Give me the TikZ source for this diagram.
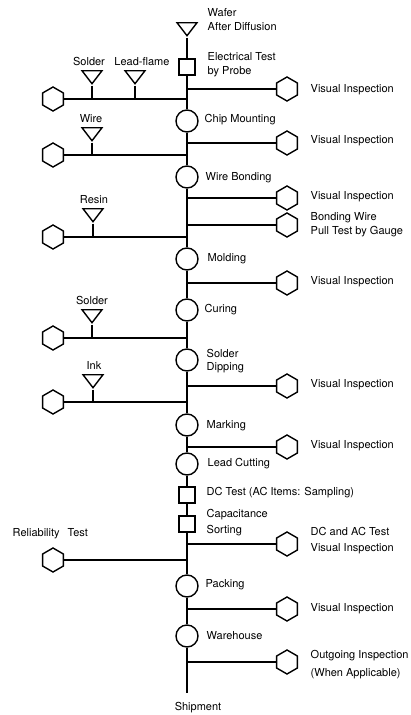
\documentclass[tikz,border=0pt]{standalone}
\usepackage{fontspec}
\setmainfont{TeX Gyre Heros}
\usetikzlibrary{shapes.geometric, positioning}

\begin{document}
\begin{tikzpicture}[x=1pt, y=-1pt, line width=1.4pt,
  every node/.style={font=\fontsize{11}{14}\selectfont},
  proc/.style={circle, draw, inner sep=0pt, minimum size=22pt},
  chk/.style={rectangle, draw, inner sep=0pt, minimum size=16pt},
  mat/.style={isosceles triangle, shape border rotate=270, isosceles triangle stretches,
    draw, inner sep=0pt, minimum width=20pt, minimum height=13pt, anchor=north},
  insp/.style={regular polygon, regular polygon sides=6, shape border rotate=30,
    draw, inner sep=0pt, minimum size=24pt},
  txt/.style={anchor=west, inner sep=0pt, align=left}]
  \useasboundingbox (0,0) rectangle (411,715);
  % main flow, top to bottom
  \node[mat]  (wafer) at (187,22) {};
  \node[chk]  (probe) at (187,67) {};
  \node[proc] (chip)  at (187,121) {};
  \node[proc] (bond)  at (187,177) {};
  \node[proc] (mold)  at (187,259) {};
  \node[proc] (cure)  at (187,310) {};
  \node[proc] (dip)   at (187,360) {};
  \node[proc] (mark)  at (187,425) {};
  \node[proc] (cut)   at (187,464) {};
  \node[chk]  (dc)    at (187,495) {};
  \node[chk]  (cap)   at (187,524) {};
  \node[proc] (pack)  at (187,586) {};
  \node[proc] (ware)  at (187,636) {};
  \coordinate (ship) at (187,693);
  \draw (wafer) -- (probe) -- (chip) -- (bond) -- (mold) -- (cure) -- (dip)
    -- (mark) -- (cut) -- (dc) -- (cap) -- (pack) -- (ware) -- (ship);
  % process names
  \node[txt] (twafer) at (207,20)  {Wafer\\After Diffusion};
  \node[txt] (tprobe) at (207,65)  {Electrical Test\\by Probe};
  \node[txt] (tchip)  at (204,120) {Chip Mounting};
  \node[txt] (tbond)  at (205,178) {Wire Bonding};
  \node[txt] (tmold)  at (207,259) {Molding};
  \node[txt] (tcure)  at (204,310) {Curing};
  \node[txt] (tdip)   at (206,361) {Solder\\[-1pt]Dipping};
  \node[txt] (tmark)  at (206,426) {Marking};
  \node[txt] (tcut)   at (207,464) {Lead Cutting};
  \node[txt] (tdc)    at (206,493) {DC Test (AC Items: Sampling)};
  \node[txt] (tcap)   at (206,523) {Capacitance\\[2pt]Sorting};
  \node[txt] (tpack)  at (205,585) {Packing};
  \node[txt] (tware)  at (206,636) {Warehouse};
  \node (tship) at (198,708) {Shipment};
  % inspections on the right
  \foreach \y/\n in {89/1, 143/2, 198/3, 225/4, 283/5, 386/6, 447/7, 544/8, 609/9, 662/10} {
    \coordinate (rj\n) at (187,\y);
    \node[insp] (vi\n) at (287,\y) {};
    \draw (rj\n) -- (vi\n);
  }
  \node[txt] (tvi1)  at (310,90)  {Visual Inspection};
  \node[txt] (tvi2)  at (310,141) {Visual Inspection};
  \node[txt] (tvi3)  at (310,197) {Visual Inspection};
  \node[txt] (tvi4)  at (310,225) {Bonding Wire\\Pull Test by Gauge};
  \node[txt] (tvi5)  at (310,282) {Visual Inspection};
  \node[txt] (tvi6)  at (310,385) {Visual Inspection};
  \node[txt] (tvi7)  at (310,446) {Visual Inspection};
  \node[txt] (tvi8)  at (310,541) {DC and AC Test\\[2pt]Visual Inspection};
  \node[txt] (tvi9)  at (310,609) {Visual Inspection};
  \node[txt] (tvi10) at (310,665) {Outgoing Inspection\\[4pt](When Applicable)};
  % incoming checks on the left
  \foreach \y/\n in {99/1, 155/2, 237/3, 338/4, 402/5, 560/6} {
    \coordinate (lj\n) at (187,\y);
    \node[insp] (li\n) at (53,\y) {};
    \draw (li\n) -- (lj\n);
  }
  \node[txt] (trel) at (12,534) {Reliability\hspace{8pt}Test};
  % materials
  \foreach \m/\x/\y/\j/\d/\t in {solderA/92/70/1/-3/Solder, lead/135/70/1/7/Lead-flame,
      wire/92/127/2/-1/Wire, resin/93/208/3/1/Resin, solderB/92/309/4/0/Solder, ink/93/374/5/1/Ink} {
    \node[mat] (\m) at (\x,\y) {};
    \draw (\m) -- (\m |- lj\j);
    \node[inner sep=1pt, above=3pt of \m, xshift=\d pt] (t\m) {\t};
  }
\end{tikzpicture}
\end{document}
